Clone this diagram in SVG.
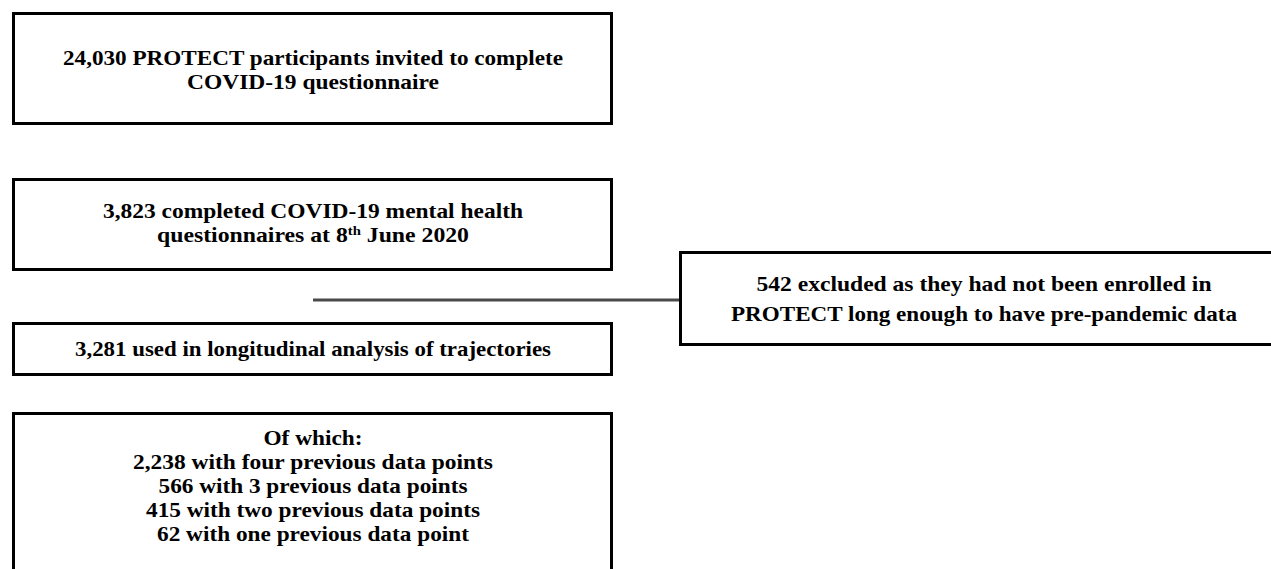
<svg xmlns="http://www.w3.org/2000/svg" width="1271" height="569" viewBox="0 0 1271 569">
<style>
.box{fill:#fff;stroke:#000;stroke-width:3}
.t{font-family:"Liberation Serif","Times New Roman",serif;font-weight:bold;font-size:21px;fill:#000;text-anchor:middle}
.conn{stroke:#4a4a4a;stroke-width:3;fill:none}
</style>
<rect width="1271" height="569" fill="#fff"/>
<g id="connectors">
<line class="conn" x1="313" y1="300" x2="680" y2="300"/>
</g>
<g id="node-invited">
<rect class="box" x="13.5" y="13.5" width="598" height="110"/>
<text class="t" x="313" y="65" textLength="500" lengthAdjust="spacingAndGlyphs">24,030 PROTECT participants invited to complete</text>
<text class="t" x="313" y="89" textLength="252" lengthAdjust="spacingAndGlyphs">COVID-19 questionnaire</text>
</g>
<g id="node-completed">
<rect class="box" x="13.5" y="179.5" width="598" height="90"/>
<text class="t" x="313" y="218" textLength="420" lengthAdjust="spacingAndGlyphs">3,823 completed COVID-19 mental health</text>
<text class="t" x="313" y="242" textLength="312" lengthAdjust="spacingAndGlyphs">questionnaires at 8<tspan font-size="13" baseline-shift="super">th</tspan> June 2020</text>
</g>
<g id="node-used">
<rect class="box" x="13.5" y="323.5" width="598" height="51"/>
<text class="t" x="313" y="356" textLength="476" lengthAdjust="spacingAndGlyphs">3,281 used in longitudinal analysis of trajectories</text>
</g>
<g id="node-excluded">
<rect class="box" x="680.5" y="252.5" width="620" height="92"/>
<text class="t" x="984" y="291" textLength="455" lengthAdjust="spacingAndGlyphs">542 excluded as they had not been enrolled in</text>
<text class="t" x="984" y="321" textLength="506" lengthAdjust="spacingAndGlyphs">PROTECT long enough to have pre-pandemic data</text>
</g>
<g id="node-breakdown">
<rect class="box" x="13.5" y="413.5" width="598" height="200"/>
<text class="t" x="313" y="445" textLength="99" lengthAdjust="spacingAndGlyphs">Of which:</text>
<text class="t" x="313" y="469" textLength="360" lengthAdjust="spacingAndGlyphs">2,238 with four previous data points</text>
<text class="t" x="313" y="493" textLength="309" lengthAdjust="spacingAndGlyphs">566 with 3 previous data points</text>
<text class="t" x="313" y="517" textLength="334" lengthAdjust="spacingAndGlyphs">415 with two previous data points</text>
<text class="t" x="313" y="541" textLength="312" lengthAdjust="spacingAndGlyphs">62 with one previous data point</text>
</g>
</svg>
